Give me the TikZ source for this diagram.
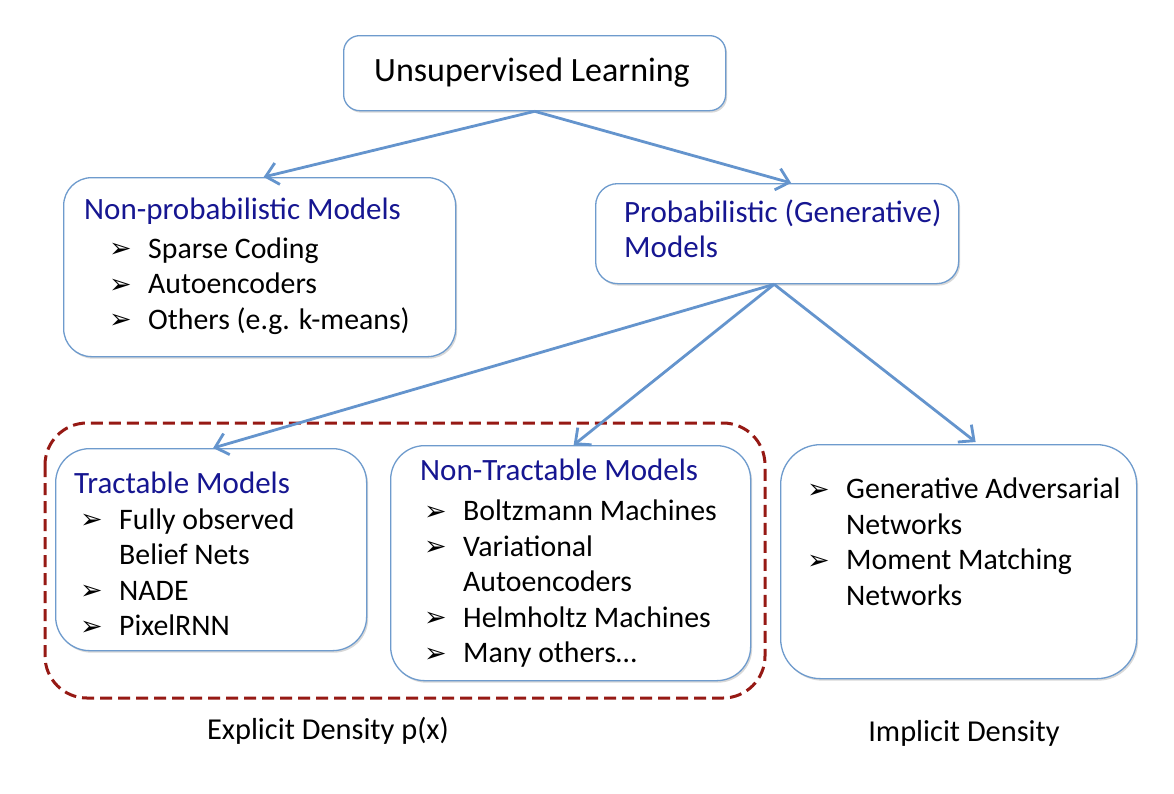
\documentclass[tikz,border=0pt]{standalone}
\usepackage{fontspec}
\setmainfont{Carlito}
\newfontfamily\dejavu{DejaVu Sans}
\usetikzlibrary{arrows.meta,shadows}
\definecolor{boxblue}{RGB}{110,155,205}
\definecolor{arrblue}{RGB}{100,148,205}
\definecolor{titleblue}{RGB}{22,22,145}
\definecolor{dashred}{RGB}{150,25,20}
\newcommand\bul{\makebox[39pt][l]{\raisebox{0.5pt}{\fontsize{27}{27}\selectfont\dejavu\bfseries ➢}}}
\newcommand\cont{\hspace*{39pt}}
\tikzset{
  box/.style={draw=boxblue, line width=1.3pt, fill=white, rounded corners=#1,
    drop shadow={shadow xshift=1.5pt, shadow yshift=-2pt, opacity=0.25, fill=black!60},
    inner sep=0pt, anchor=north west},
  box/.default=28pt,
  txt/.style={anchor=west, align=left, inner sep=0pt,
    font=\fontsize{29.8}{35.5}\selectfont},
  ttl/.style={anchor=west, inner sep=0pt, text=titleblue,
    font=\fontsize{31}{35.5}\selectfont},
  arr/.style={draw=arrblue, line width=2.8pt,
    -{Straight Barb[length=12pt,width=22pt,line width=2.8pt]}},
  lbl/.style={inner sep=0pt, font=\fontsize{30.4}{35}\selectfont}
}
\begin{document}
\begin{tikzpicture}[x=1pt,y=-1pt]
\useasboundingbox[fill=white] (0,0) rectangle (1174,793);
% dashed group
\draw[dashred, line width=3pt, dash pattern=on 12pt off 6pt, rounded corners=42pt]
  (45,423) rectangle (765,698);
% boxes
\node[box=16pt, minimum width=382pt, minimum height=75pt] (ul) at (343,35) {};
\node[box, minimum width=392pt, minimum height=179pt] (np) at (63,177) {};
\node[box=22pt, minimum width=363pt, minimum height=100pt] (pm) at (595,183) {};
\node[box=34pt, minimum width=311pt, minimum height=202pt] (tr) at (55,448) {};
\node[box=34pt, minimum width=360pt, minimum height=235pt] (nt) at (390,445) {};
\node[box=40pt, minimum width=356pt, minimum height=234pt] (im) at (780,444) {};
% texts
\node[inner sep=0pt, font=\fontsize{34}{40}\selectfont] (ult) at (532,73) {Unsupervised Learning};
\node[ttl] (npt) at (84,211) {Non-probabilistic Models};
\node[txt] (npl) at (109,286) {\bul Sparse Coding\\ \bul Autoencoders\\ \bul Others (e.g. k-means)};
\node[ttl, align=left] (pmt) at (624,229) {Probabilistic (Generative)\\Models};
\node[ttl] (trt) at (74,483) {Tractable Models};
\node[txt] (trl) at (80,572) {\bul Fully observed\\ \cont Belief Nets\\ \bul NADE\\ \bul PixelRNN};
\node[ttl] (ntt) at (420,470) {Non-Tractable Models};
\node[txt] (ntl) at (424,584) {\bul Boltzmann Machines\\ \bul Variational\\ \cont Autoencoders\\ \bul Helmholtz Machines\\ \bul Many others\dots};
\node[txt] (iml) at (807,542) {\bul Generative Adversarial\\ \cont Networks\\ \bul Moment Matching\\ \cont Networks};
\node[lbl] (exl) at (328,731) {Explicit Density p(x)};
\node[lbl] (iml2) at (964,733) {Implicit Density};
% arrows
\draw[arr] (ul.south) -- ([xshift=4pt]np.north);
\draw[arr] (ul.south) -- ([xshift=14pt]pm.north);
\draw[arr] ([xshift=-3pt]pm.south) -- ([xshift=2pt]tr.north);
\draw[arr] ([xshift=-3pt]pm.south) -- ([xshift=3pt]nt.north);
\draw[arr] ([xshift=-3pt]pm.south) -- ([xshift=17pt,yshift=2pt]im.north);
\end{tikzpicture}
\end{document}
